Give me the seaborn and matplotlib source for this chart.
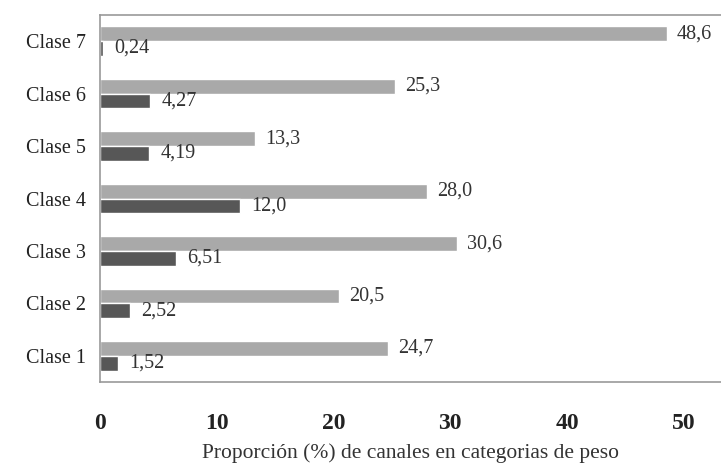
import numpy as np
import pandas as pd
import matplotlib
matplotlib.use('Agg')
import matplotlib.pyplot as plt
import seaborn as sbn

# Data (top to bottom as drawn)
clases = ['Clase 7', 'Clase 6', 'Clase 5', 'Clase 4', 'Clase 3', 'Clase 2', 'Clase 1']
serie_clara = [48.6, 25.3, 13.3, 28.0, 30.6, 20.5, 24.7]
serie_oscura = [0.24, 4.27, 4.19, 12.0, 6.51, 2.52, 1.52]
etiquetas_clara = ['48,6', '25,3', '13,3', '28,0', '30,6', '20,5', '24,7']
etiquetas_oscura = ['0,24', '4,27', '4,19', '12,0', '6,51', '2,52', '1,52']
x_ticks = [0, 10, 20, 30, 40, 50]

df = pd.DataFrame({
    'Clase': clases * 2,
    'Valor': serie_clara + serie_oscura,
    'Serie': ['A'] * len(clases) + ['B'] * len(clases),
})

sbn.set_style('white')
plt.rcParams['font.family'] = ['Liberation Serif', 'DejaVu Serif']

fig = plt.figure(figsize=(7.21, 4.66), dpi=100)
ax = fig.add_axes([0.139, 0.180, 0.861, 0.788])

sbn.barplot(data=df, x='Valor', y='Clase', hue='Serie', order=clases,
            hue_order=['A', 'B'], palette=['#a9a9a9', '#575757'],
            width=0.56, orient='h', saturation=1, legend=False, ax=ax)

ax.bar_label(ax.containers[0], labels=etiquetas_clara, padding=7,
             fontsize=14.5, color='#333333')
ax.bar_label(ax.containers[1], labels=etiquetas_oscura, padding=8,
             fontsize=14.5, color='#333333')
for t in ax.texts[len(clases):]:
    t.set_y(t.get_position()[1] + 0.07)

ax.set_xlim(0, 53.2)
ax.set_ylim(6.5, -0.5)
ax.set_xticks(x_ticks)
ax.set_xticklabels([str(v) for v in x_ticks], fontweight='bold', fontsize=17,
                   color='#222222')
ax.tick_params(axis='x', direction='inout', length=6, color='#999999', pad=19)
ax.tick_params(axis='y', which='major', length=0, pad=10, labelsize=14.5,
               labelcolor='#222222')
ax.set_yticks(np.arange(0.5, 6.5, 1), minor=True)
ax.tick_params(axis='y', which='minor', length=4, color='#999999')

for side in ['top', 'bottom', 'left']:
    ax.spines[side].set_color('#999999')
    ax.spines[side].set_linewidth(1.2)
ax.spines['right'].set_visible(False)

ax.set_xlabel('Proporción (%) de canales en categorias de peso', fontsize=15.5,
              color='#333333', labelpad=7)
ax.set_ylabel('')

fig.savefig('out.png', dpi=100)
